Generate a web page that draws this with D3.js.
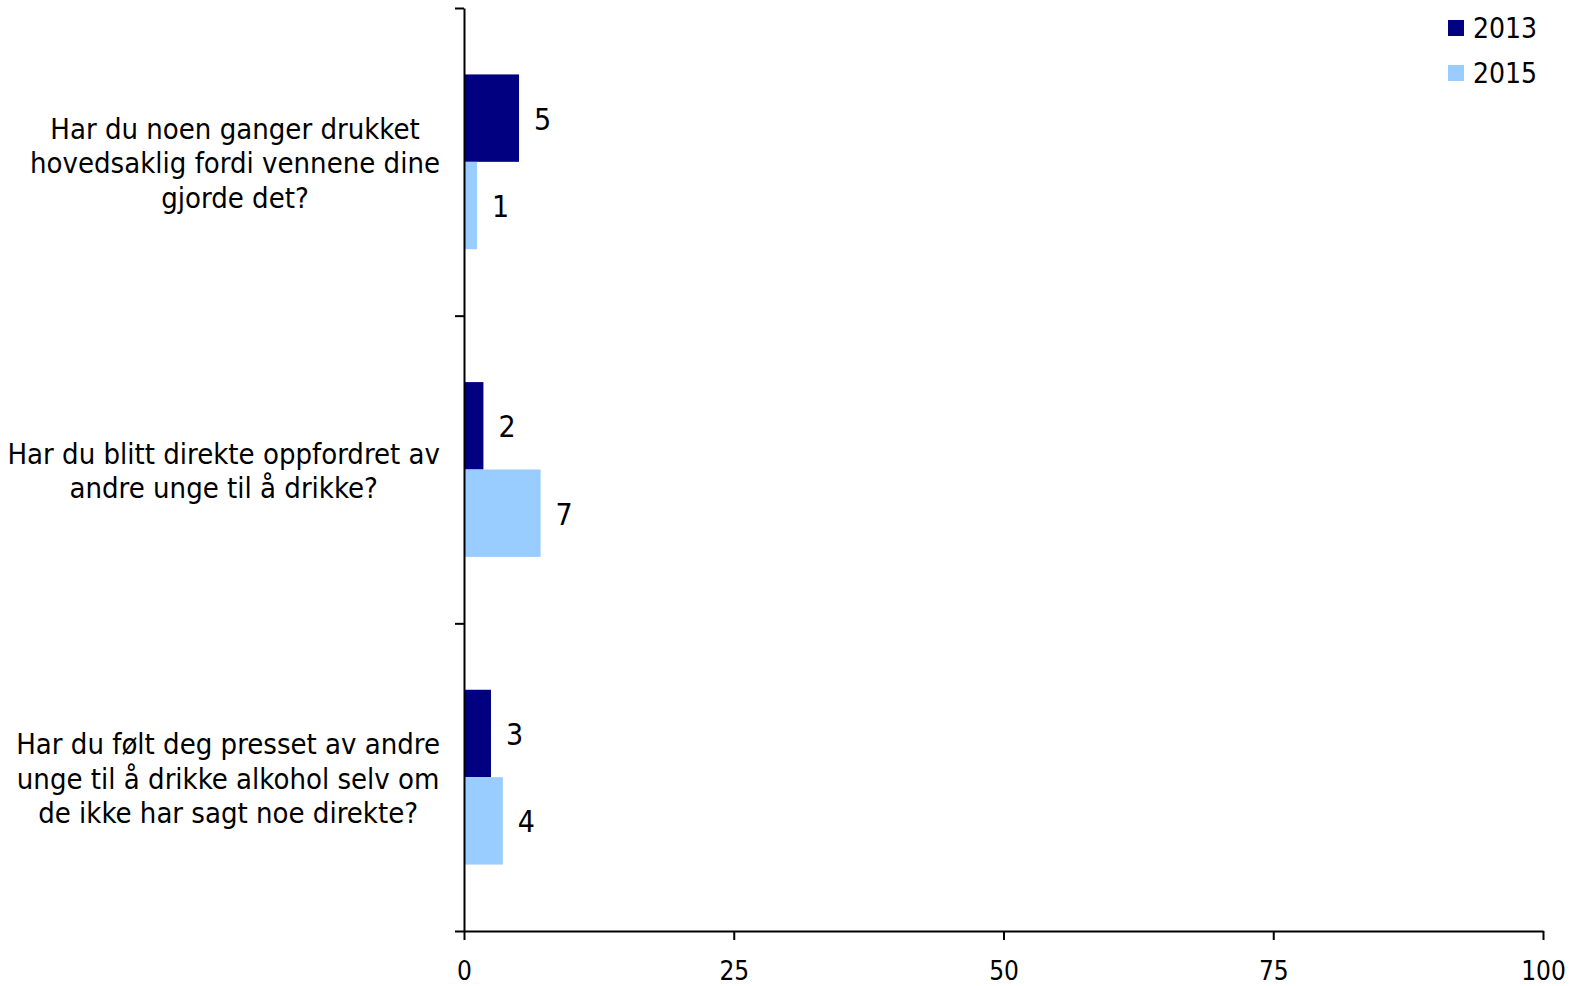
<!DOCTYPE html>
<html>
<head>
<meta charset="utf-8">
<script src="https://cdn.jsdelivr.net/npm/d3@7"></script>
<style>
  body { margin: 0; background: #fff; overflow: hidden; }
  svg { display: block; }
  svg text { font-family: "DejaVu Sans Condensed", "DejaVu Sans", sans-serif; fill: #000; }
</style>
</head>
<body>
<div id="chart"></div>
<script>
let width = 1585;
let height = 986;

// data
let categories = [
    ["Har du noen ganger drukket", "hovedsaklig fordi vennene dine", "gjorde det?"],
    ["Har du blitt direkte oppfordret av", "andre unge til å drikke?"],
    ["Har du følt deg presset av andre", "unge til å drikke alkohol selv om", "de ikke har sagt noe direkte?"]
];
let seriesNames = ["2013", "2015"];
let values2013 = [5.1, 1.8, 2.5];
let values2015 = [1.2, 7.1, 3.6];
let xTicks = [0, 25, 50, 75, 100];
let colors = ["#000080", "#99ccff"];

let svg = d3.select("div#chart").append("svg")
    .attr("width", width)
    .attr("height", height);

svg.append("rect")
    .attr("width", width)
    .attr("height", height)
    .attr("fill", "#fff");

let x = d3.scaleLinear()
    .domain([0, 100])
    .range([464, 1543]);

let catIndex = categories.map((c, i) => i);

let y = d3.scaleBand()
    .domain(catIndex)
    .range([8, 931]);

let ySub = d3.scaleBand()
    .domain(seriesNames)
    .range([0, y.bandwidth()])
    .paddingInner(0)
    .paddingOuter(0.76);

let rows = catIndex.map(i => ({
    cat: i,
    vals: [values2013[i], values2015[i]]
}));

// bars
let groups = svg.selectAll("g.cat")
    .data(rows)
    .enter().append("g")
    .attr("class", "cat")
    .attr("transform", d => "translate(0," + y(d.cat) + ")");

groups.selectAll("rect")
    .data(d => d.vals.map((v, j) => ({ series: seriesNames[j], value: v, color: colors[j] })))
    .enter().append("rect")
    .attr("x", x(0))
    .attr("y", d => ySub(d.series))
    .attr("width", d => x(d.value) - x(0))
    .attr("height", ySub.bandwidth())
    .attr("fill", d => d.color);

groups.selectAll("text.val")
    .data(d => d.vals.map((v, j) => ({ series: seriesNames[j], value: v })))
    .enter().append("text")
    .attr("class", "val")
    .attr("x", d => x(d.value) + 15)
    .attr("y", d => ySub(d.series) + ySub.bandwidth() / 2)
    .attr("dy", "0.38em")
    .style("font-size", "30px")
    .text(d => Math.round(d.value));

// x axis
let xAxis = svg.append("g")
    .attr("transform", "translate(0,931)")
    .call(d3.axisBottom(x).tickValues(xTicks).tickSize(9).tickPadding(22).tickSizeOuter(0));

xAxis.selectAll("text").style("font-size", "26px");
xAxis.selectAll("line, path").attr("stroke", "#000").attr("stroke-width", 2);

// y axis: ticks between categories
let yEdges = d3.scaleLinear()
    .domain([0, categories.length])
    .range([8, 931]);

let yAxis = svg.append("g")
    .attr("transform", "translate(" + x(0) + ",0)")
    .call(d3.axisLeft(yEdges).tickValues(d3.range(categories.length + 1)).tickSize(9).tickFormat("").tickSizeOuter(0));

yAxis.selectAll("line, path").attr("stroke", "#000").attr("stroke-width", 2);

// category labels, each block right aligned to the axis, lines centered in the block
let labelRight = 440;
let lineH = 34.5;

groups.each(function(d) {
    let g = d3.select(this);
    let lines = categories[d.cat];
    let t = g.append("text")
        .attr("text-anchor", "middle")
        .style("font-size", "29px");
    let spans = lines.map((ln, k) => t.append("tspan")
        .attr("y", y.bandwidth() / 2 + 1 + (k - (lines.length - 1) / 2) * lineH)
        .attr("dy", "0.36em")
        .text(ln));
    let maxW = d3.max(spans, s => s.node().getComputedTextLength());
    spans.forEach(s => s.attr("x", labelRight - maxW / 2));
});

// legend
let legend = svg.selectAll("g.legend")
    .data(seriesNames)
    .enter().append("g")
    .attr("class", "legend")
    .attr("transform", (d, i) => "translate(1448," + (20 + i * 45) + ")");

legend.append("rect")
    .attr("width", 16)
    .attr("height", 16)
    .attr("fill", (d, i) => colors[i]);

legend.append("text")
    .attr("x", 25)
    .attr("y", 8)
    .attr("dy", "0.36em")
    .style("font-size", "28px")
    .text(d => d);
</script>
</body>
</html>
